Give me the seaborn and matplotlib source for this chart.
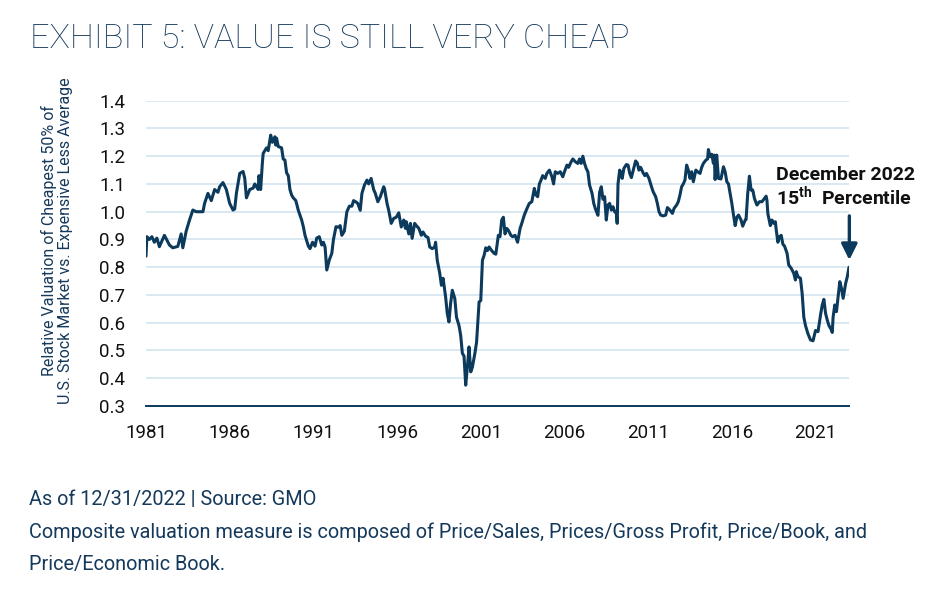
import matplotlib
matplotlib.use("Agg")
import matplotlib.pyplot as plt
import seaborn as sns
import pandas as pd

# === DATA (decimal years)
years = [
    1981.0, 1981.05, 1981.2, 1981.35, 1981.5, 1981.65, 1981.8, 1982.1, 1982.4, 1982.6,
    1982.9, 1983.1, 1983.2, 1983.4, 1983.6, 1983.8, 1984.0, 1984.4, 1984.5, 1984.7,
    1984.9, 1985.1, 1985.3, 1985.4, 1985.6, 1985.8, 1986.0, 1986.2, 1986.3, 1986.4,
    1986.6, 1986.8, 1986.9, 1987.0, 1987.2, 1987.4, 1987.5, 1987.7, 1987.75, 1987.85,
    1987.95, 1988.0, 1988.2, 1988.3, 1988.45, 1988.55, 1988.7, 1988.75, 1988.8, 1988.9,
    1989.1, 1989.2, 1989.3, 1989.4, 1989.5, 1989.6, 1989.7, 1989.8, 1989.95, 1990.1,
    1990.3, 1990.4, 1990.5, 1990.7, 1990.8, 1990.95, 1991.1, 1991.2, 1991.35, 1991.5,
    1991.6, 1991.7, 1991.8, 1991.95, 1992.1, 1992.2, 1992.35, 1992.5, 1992.6, 1992.7,
    1992.85, 1993.0, 1993.15, 1993.3, 1993.4, 1993.55, 1993.65, 1993.8, 1993.9, 1994.05,
    1994.2, 1994.3, 1994.45, 1994.6, 1994.7, 1994.85, 1995.0, 1995.2, 1995.25, 1995.4,
    1995.5, 1995.65, 1995.8, 1995.95, 1996.1, 1996.25, 1996.4, 1996.5, 1996.55, 1996.7,
    1996.8, 1996.9, 1997.05, 1997.15, 1997.3, 1997.45, 1997.55, 1997.7, 1997.85, 1997.95,
    1998.1, 1998.25, 1998.3, 1998.4, 1998.55, 1998.65, 1998.75, 1998.9, 1999.0, 1999.1,
    1999.2, 1999.3, 1999.45, 1999.55, 1999.7, 1999.8, 1999.9, 2000.0, 2000.1, 2000.2,
    2000.3, 2000.4, 2000.5, 2000.65, 2000.75, 2000.9, 2001.0, 2001.1, 2001.2, 2001.3,
    2001.4, 2001.5, 2001.65, 2001.8, 2001.9, 2002.05, 2002.15, 2002.25, 2002.35, 2002.45,
    2002.55, 2002.65, 2002.8, 2002.9, 2003.05, 2003.2, 2003.35, 2003.45, 2003.6, 2003.75,
    2003.9, 2004.05, 2004.2, 2004.3, 2004.4, 2004.5, 2004.6, 2004.7, 2004.85, 2004.95,
    2005.1, 2005.25, 2005.35, 2005.45, 2005.6, 2005.75, 2005.9, 2006.0, 2006.15, 2006.25,
    2006.4, 2006.5, 2006.65, 2006.8, 2006.9, 2007.0, 2007.1, 2007.2, 2007.3, 2007.4,
    2007.5, 2007.65, 2007.75, 2007.85, 2008.0, 2008.1, 2008.2, 2008.3, 2008.4, 2008.5,
    2008.6, 2008.7, 2008.8, 2008.9, 2009.0, 2009.1, 2009.15, 2009.2, 2009.3, 2009.4,
    2009.45, 2009.55, 2009.7, 2009.8, 2009.9, 2010.0, 2010.15, 2010.25, 2010.35, 2010.45,
    2010.55, 2010.7, 2010.8, 2010.9, 2011.05, 2011.2, 2011.3, 2011.45, 2011.55, 2011.65,
    2011.75, 2011.9, 2012.05, 2012.15, 2012.3, 2012.45, 2012.55, 2012.7, 2012.8, 2012.9,
    2013.0, 2013.1, 2013.2, 2013.3, 2013.4, 2013.5, 2013.6, 2013.7, 2013.85, 2013.95,
    2014.1, 2014.2, 2014.3, 2014.45, 2014.55, 2014.6, 2014.7, 2014.8, 2014.9, 2014.95,
    2015.0, 2015.1, 2015.2, 2015.35, 2015.5, 2015.6, 2015.7, 2015.8, 2015.9, 2016.0,
    2016.1, 2016.2, 2016.3, 2016.4, 2016.55, 2016.65, 2016.8, 2016.85, 2016.95, 2017.05,
    2017.15, 2017.25, 2017.35, 2017.5, 2017.65, 2017.8, 2017.95, 2018.05, 2018.1, 2018.15,
    2018.3, 2018.4, 2018.5, 2018.6, 2018.65, 2018.75, 2018.85, 2018.95, 2019.05, 2019.15,
    2019.3, 2019.4, 2019.55, 2019.7, 2019.8, 2019.85, 2019.95, 2020.1, 2020.2, 2020.3,
    2020.4, 2020.55, 2020.7, 2020.85, 2021.0, 2021.15, 2021.3, 2021.4, 2021.5, 2021.6,
    2021.7, 2021.8, 2021.95, 2022.0, 2022.05, 2022.15, 2022.25, 2022.35, 2022.45, 2022.55,
    2022.65, 2022.8, 2022.9, 2023.0,
]
values = [
    0.84, 0.91, 0.90, 0.91, 0.89, 0.905, 0.874, 0.915, 0.88, 0.87,
    0.875, 0.92, 0.87, 0.93, 0.97, 1.006, 1.0, 1.0, 1.03, 1.066,
    1.04, 1.08, 1.07, 1.09, 1.105, 1.08, 1.03, 1.006, 1.01, 1.066,
    1.138, 1.145, 1.12, 1.05, 1.08, 1.085, 1.10, 1.08, 1.13, 1.08,
    1.174, 1.21, 1.23, 1.22, 1.276, 1.25, 1.27, 1.24, 1.265, 1.235,
    1.23, 1.19, 1.186, 1.14, 1.13, 1.08, 1.06, 1.05, 1.04, 1.005,
    0.97, 0.946, 0.915, 0.876, 0.867, 0.89, 0.876, 0.905, 0.91, 0.88,
    0.89, 0.872, 0.79, 0.826, 0.85, 0.90, 0.946, 0.944, 0.95, 0.915,
    0.93, 1.0, 1.02, 1.02, 1.04, 1.035, 1.03, 1.005, 1.066, 1.096,
    1.114, 1.10, 1.12, 1.08, 1.066, 1.036, 1.054, 1.09, 1.083, 1.03,
    1.005, 0.958, 0.976, 0.98, 0.996, 0.945, 0.97, 0.94, 0.964, 0.92,
    0.958, 0.904, 0.958, 0.95, 0.94, 0.915, 0.927, 0.912, 0.907, 0.873,
    0.867, 0.873, 0.89, 0.825, 0.778, 0.735, 0.76, 0.693, 0.633, 0.603,
    0.67, 0.717, 0.687, 0.62, 0.59, 0.555, 0.49, 0.48, 0.375, 0.44,
    0.513, 0.423, 0.44, 0.49, 0.53, 0.675, 0.68, 0.825, 0.843, 0.87,
    0.86, 0.873, 0.86, 0.85, 0.847, 0.915, 0.91, 0.97, 0.98, 0.92,
    0.94, 0.933, 0.915, 0.91, 0.915, 0.89, 0.94, 0.958, 0.988, 1.01,
    1.03, 1.036, 1.084, 1.06, 1.054, 1.10, 1.114, 1.13, 1.12, 1.138,
    1.15, 1.126, 1.10, 1.144, 1.138, 1.144, 1.126, 1.144, 1.168, 1.16,
    1.18, 1.19, 1.18, 1.174, 1.19, 1.174, 1.20, 1.174, 1.156, 1.144,
    1.096, 1.066, 1.03, 1.01, 0.987, 1.07, 1.09, 1.045, 1.054, 0.97,
    1.024, 1.03, 1.006, 1.018, 1.0, 0.994, 0.958, 1.10, 1.15, 1.138,
    1.12, 1.156, 1.17, 1.168, 1.138, 1.123, 1.16, 1.183, 1.176, 1.15,
    1.16, 1.14, 1.13, 1.138, 1.12, 1.09, 1.072, 1.054, 1.03, 1.0,
    0.988, 0.985, 0.988, 1.015, 1.006, 0.994, 1.012, 1.024, 1.036, 1.06,
    1.09, 1.10, 1.114, 1.168, 1.15, 1.12, 1.144, 1.108, 1.15, 1.144,
    1.138, 1.16, 1.174, 1.186, 1.19, 1.224, 1.198, 1.207, 1.174, 1.204,
    1.116, 1.204, 1.12, 1.118, 1.162, 1.144, 1.108, 1.10, 1.066, 1.03,
    0.988, 0.95, 0.98, 0.988, 0.97, 0.948, 0.97, 0.972, 1.066, 1.128,
    1.078, 1.078, 1.048, 1.024, 1.036, 1.036, 1.048, 1.056, 1.04, 0.994,
    0.95, 0.97, 0.958, 0.964, 0.936, 0.89, 0.91, 0.915, 0.883, 0.876,
    0.85, 0.808, 0.796, 0.778, 0.754, 0.784, 0.766, 0.76, 0.706, 0.62,
    0.59, 0.56, 0.538, 0.535, 0.572, 0.568, 0.628, 0.664, 0.684, 0.634,
    0.61, 0.59, 0.574, 0.565, 0.62, 0.664, 0.64, 0.694, 0.748, 0.724,
    0.688, 0.742, 0.766, 0.80,
]
x_ticks = [1981, 1986, 1991, 1996, 2001, 2006, 2011, 2016, 2021]
y_ticks = [0.3, 0.4, 0.5, 0.6, 0.7, 0.8, 0.9, 1.0, 1.1, 1.2, 1.3, 1.4]

NAVY = "#0c3a5c"
TEXT_BLUE = "#15395b"
GRID = "#d6e6f0"

# === Theme
sns.set_theme(style="white")
plt.rcParams["font.family"] = ["Roboto", "DejaVu Sans"]
plt.rcParams["mathtext.fontset"] = "custom"
plt.rcParams["mathtext.rm"] = "Roboto"
plt.rcParams["mathtext.bf"] = "Roboto:bold"

df = pd.DataFrame({"year": years, "value": values})

fig = plt.figure(figsize=(9.36, 5.94), dpi=100)
ax = fig.add_axes([146 / 936, 1 - 406 / 594, (849 - 146) / 936, (406 - 100.7) / 594])

sns.lineplot(data=df, x="year", y="value", ax=ax, color=NAVY, linewidth=2.2,
             estimator=None, sort=False)

# === Axes
ax.set_xlim(years[0], years[-1])
ax.set_ylim(0.3, 1.4)
ax.set_xticks(x_ticks)
ax.set_xticklabels([str(t) for t in x_ticks])
ax.set_yticks(y_ticks)
ax.set_yticklabels([f"{t:.1f}" for t in y_ticks])
ax.tick_params(axis="x", length=0, pad=13, labelsize=13.5, labelcolor="#111111")
ax.tick_params(axis="y", length=0, pad=15, labelsize=13.5, labelcolor="#111111")
ax.grid(axis="y", color=GRID, linewidth=1.3)
ax.set_axisbelow(True)
for side in ["top", "right", "left"]:
    ax.spines[side].set_visible(False)
ax.spines["bottom"].set_color(NAVY)
ax.spines["bottom"].set_linewidth(1.4)
ax.set_xlabel("")
ax.set_ylabel("")

# === Y label (two lines)
fig.text(57 / 936, 1 - 241 / 594,
         "Relative Valuation of Cheapest 50% of\nU.S. Stock Market vs. Expensive Less Average",
         rotation=90, ha="center", va="center", multialignment="center",
         fontsize=11.5, color=TEXT_BLUE, linespacing=1.15)

# === Annotation
ax.annotate("", xy=(2023.02, 0.826), xytext=(2023.02, 0.985),
            arrowprops=dict(arrowstyle="-|>,head_width=0.4,head_length=0.8",
                            color=NAVY, lw=2.4, shrinkA=0, shrinkB=0),
            annotation_clip=False)
ax.text(2018.66, 1.114, "December 2022", fontsize=14, fontweight="bold",
        color="#111111", ha="left", va="baseline")
ax.text(2018.66, 1.024, "15$^{\\mathbf{th}}$  Percentile", fontsize=14,
        fontweight="bold", color="#111111", ha="left", va="baseline")

# === Title and footer
fig.text(30 / 936, 1 - 48 / 594, "EXHIBIT 5: VALUE IS STILL VERY CHEAP",
         fontsize=24.6, fontweight="light", color=TEXT_BLUE, ha="left", va="baseline")
fig.text(29 / 936, 1 - 505 / 594, "As of 12/31/2022 | Source: GMO",
         fontsize=14.3, color=TEXT_BLUE, ha="left", va="baseline")
fig.text(29 / 936, 1 - 538 / 594,
         "Composite valuation measure is composed of Price/Sales, Prices/Gross Profit, Price/Book, and",
         fontsize=14.3, color=TEXT_BLUE, ha="left", va="baseline")
fig.text(29 / 936, 1 - 570 / 594, "Price/Economic Book.",
         fontsize=14.3, color=TEXT_BLUE, ha="left", va="baseline")

fig.savefig("out.png", dpi=100)
